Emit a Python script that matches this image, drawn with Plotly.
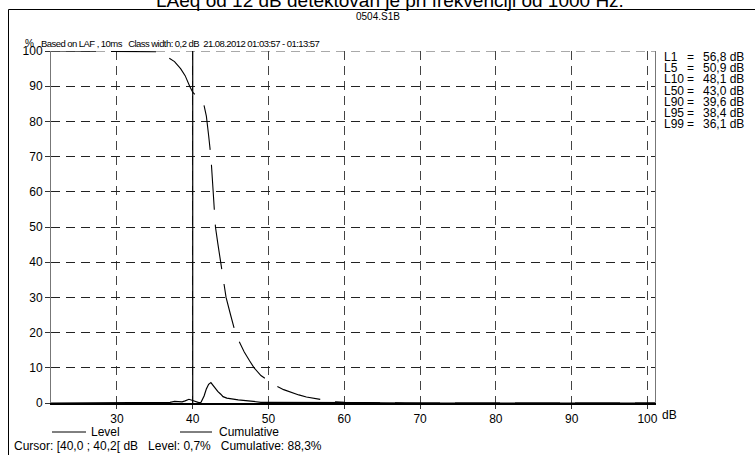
import plotly.graph_objects as go

# ---------------- data ----------------
level_db = [21.3, 30.0, 35.0, 36.0, 37.0, 37.6, 38.0, 38.6, 39.0, 39.5, 40.0, 40.4, 40.8, 41.1,
            41.5, 41.8, 42.1, 42.4, 42.7, 43.0, 43.3, 43.7, 44.0, 44.5, 45.0, 46.0, 47.0,
            48.0, 49.0, 50.0, 52.0, 55.0, 58.0, 60.0, 62.0, 65.0, 70.0, 101.0]
level_pct = [0.0, 0.0, 0.05, 0.1, 0.2, 0.45, 0.35, 0.3, 0.6, 1.05, 0.7, 0.3, 0.1, 0.2,
             2.0, 4.0, 5.3, 5.8, 5.0, 4.0, 3.3, 2.5, 1.8, 1.4, 1.2, 0.9, 0.7,
             0.4, 0.2, 0.2, 0.15, 0.1, 0.05, 0.05, 0.1, 0.05, 0.0, 0.0]

cum_db = [21.3, 34.0, 35.3, 36.1, 37.0, 37.6, 38.4, 39.0, 39.6, 40.0, 40.4, 41.0, 41.4, 41.8,
          42.1, 42.4, 42.7, 43.0, 43.3, 43.7, 44.0, 44.4, 45.0, 45.5, 46.0, 46.8, 47.5,
          48.1, 49.0, 50.0, 50.9, 52.0, 53.0, 54.0, 55.0, 56.8, 58.5, 60.0, 63.0, 68.0, 101.0]
cum_pct = [100.0, 100.0, 99.8, 99.0, 97.8, 97.0, 95.0, 93.0, 90.0, 88.3, 87.4, 86.6, 85.5, 81.5,
           76.0, 70.0, 60.0, 50.0, 45.5, 40.0, 35.5, 30.0, 25.0, 21.0, 18.0, 14.5, 12.0,
           10.0, 7.8, 6.2, 5.0, 3.8, 3.0, 2.3, 1.7, 1.0, 0.4, 0.2, 0.05, 0.0, 0.0]

x_ticks = [30, 40, 50, 60, 70, 80, 90, 100]
y_ticks = [0, 10, 20, 30, 40, 50, 60, 70, 80, 90, 100]

cursor_db = 40.0

stat_names = ["L1", "L5", "L10", "L50", "L90", "L95", "L99"]
stat_values = ["56,8 dB", "50,9 dB", "48,1 dB", "43,0 dB", "39,6 dB", "38,4 dB", "36,1 dB"]

title_text = "LAeq od 12 dB detektovan je pri frekvenciji od 1000 Hz."
file_text = "0504.S1B"
info_text = "Based on LAF , 10ms   Class width: 0,2 dB  21.08.2012 01:03:57 - 01:13:57"
cursor_text = "Cursor: [40,0 ; 40,2[ dB   Level: 0,7%   Cumulative: 88,3%"

# ---------------- layout helpers ----------------
W, H = 755, 455
L, R, T, B = 51, 655, 51, 403
FONT = "Liberation Sans, Arial, sans-serif"


def px(xp):
    return (xp - L) / (R - L)


def py(yp):
    return (B - yp) / (B - T)


def keep_spaces(s):
    return s.replace("  ", "\u00a0 ")


def condensed(s, spacing):
    return '<span style="letter-spacing:%spx">%s</span>' % (spacing, keep_spaces(s))


fig = go.Figure()
fig.add_trace(go.Scatter(x=level_db, y=level_pct, mode="lines", name="Level",
                         line=dict(color="black", width=1.2), hoverinfo="skip"))
fig.add_trace(go.Scatter(x=cum_db, y=cum_pct, mode="lines", name="Cumulative",
                         line=dict(color="black", width=1.1, dash="45px,15px"), hoverinfo="skip"))

shapes = []
# top dashed gridline (100 %)
shapes.append(dict(type="line", xref="paper", yref="y", x0=0, x1=1, y0=100, y1=100,
                   line=dict(color="#555", width=1, dash="9px,6px"), layer="below"))
# cursor line
shapes.append(dict(type="line", xref="x", yref="paper", x0=cursor_db, x1=cursor_db, y0=0, y1=1,
                   line=dict(color="black", width=1.2)))
# outer frame (only left and top edges fall inside the picture)
shapes.append(dict(type="rect", xref="paper", yref="paper", x0=px(8.5), x1=px(758), y0=py(9.5), y1=py(458),
                   line=dict(color="black", width=1), fillcolor="rgba(0,0,0,0)"))
# legend sample lines
shapes.append(dict(type="line", xref="paper", yref="paper", x0=px(52), x1=px(86), y0=py(432), y1=py(432),
                   line=dict(color="black", width=1)))
shapes.append(dict(type="line", xref="paper", yref="paper", x0=px(180), x1=px(212), y0=py(432), y1=py(432),
                   line=dict(color="black", width=1)))

ann = []
ann.append(dict(text=title_text, x=px(390), y=py(1), xref="paper", yref="paper", xanchor="center",
                yanchor="middle", showarrow=False, font=dict(family=FONT, size=19, color="black")))
ann.append(dict(text=file_text, x=px(378), y=py(16.5), xref="paper", yref="paper", xanchor="center",
                yanchor="middle", showarrow=False, font=dict(family=FONT, size=10, color="black")))
ann.append(dict(text="%", x=px(23), y=py(43), xref="paper", yref="paper", xanchor="left",
                yanchor="middle", showarrow=False, font=dict(family=FONT, size=10, color="black")))
ann.append(dict(text=condensed(info_text, -0.55), x=px(39), y=py(43), xref="paper", yref="paper",
                xanchor="left", yanchor="middle", showarrow=False,
                font=dict(family=FONT, size=9.5, color="black")))
for i, (n, v) in enumerate(zip(stat_names, stat_values)):
    yy = 57 + i * 11.2
    ann.append(dict(text=n, x=px(662), y=py(yy), xref="paper", yref="paper", xanchor="left",
                    yanchor="middle", showarrow=False, font=dict(family=FONT, size=12, color="black")))
    ann.append(dict(text="=", x=px(685), y=py(yy), xref="paper", yref="paper", xanchor="left",
                    yanchor="middle", showarrow=False, font=dict(family=FONT, size=12, color="black")))
    ann.append(dict(text=v, x=px(701), y=py(yy), xref="paper", yref="paper", xanchor="left",
                    yanchor="middle", showarrow=False, font=dict(family=FONT, size=12, color="black")))
ann.append(dict(text="dB", x=px(660), y=py(415), xref="paper", yref="paper", xanchor="left",
                yanchor="middle", showarrow=False, font=dict(family=FONT, size=12, color="black")))
ann.append(dict(text="Level", x=px(89), y=py(432), xref="paper", yref="paper", xanchor="left",
                yanchor="middle", showarrow=False, font=dict(family=FONT, size=12, color="black")))
ann.append(dict(text="Cumulative", x=px(217), y=py(432), xref="paper", yref="paper", xanchor="left",
                yanchor="middle", showarrow=False, font=dict(family=FONT, size=12, color="black")))
ann.append(dict(text=keep_spaces(cursor_text), x=px(12), y=py(446), xref="paper", yref="paper",
                xanchor="left", yanchor="middle", showarrow=False,
                font=dict(family=FONT, size=12, color="black")))

fig.update_layout(
    width=W, height=H,
    margin=dict(l=L, r=W - R, t=T, b=H - B, pad=0),
    paper_bgcolor="white", plot_bgcolor="white",
    showlegend=False,
    font=dict(family=FONT, size=12, color="black"),
    shapes=shapes, annotations=ann,
    xaxis=dict(range=[21.3, 101.0], tickvals=x_ticks, ticktext=[str(t) for t in x_ticks],
               showgrid=True, gridcolor="#444", gridwidth=1, griddash="9px,6px",
               showline=True, linecolor="black", linewidth=1.5, mirror=False,
               ticks="outside", ticklen=4, tickcolor="#333", zeroline=False,
               tickfont=dict(family=FONT, size=12, color="black"), fixedrange=True),
    yaxis=dict(range=[0, 100], tickvals=y_ticks, ticktext=[str(t) for t in y_ticks],
               showgrid=True, gridcolor="#222", gridwidth=1, griddash="9px,6px",
               showline=True, linecolor="#777", linewidth=1, mirror=True,
               ticks="outside", ticklen=5, tickcolor="#333", zeroline=False,
               tickfont=dict(family=FONT, size=12, color="black"), fixedrange=True),
)

fig.write_html("out.html", config={"displayModeBar": False},
               post_script="document.body.style.margin='0';document.body.style.overflow='hidden';")
